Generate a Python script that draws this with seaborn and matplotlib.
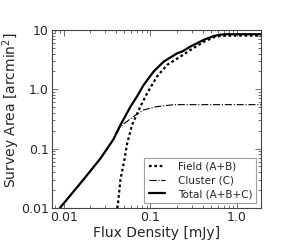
import numpy as np
import pandas as pd
import matplotlib
matplotlib.use("Agg")
import matplotlib.pyplot as plt
import seaborn as sns

# values (flux in mJy, area in arcmin^2)
field_flux = [0.041, 0.045, 0.05, 0.0537, 0.0614, 0.0766, 0.0916, 0.119, 0.156,
              0.222, 0.29, 0.413, 0.54, 0.644, 0.75, 1.0, 2.0]
field_area = [0.008, 0.03, 0.065, 0.12, 0.253, 0.514, 0.86, 1.64, 2.58,
              3.56, 4.6, 6.3, 7.5, 7.9, 8.0, 8.0, 8.0]

cluster_flux = [0.009, 0.0168, 0.0264, 0.037, 0.045, 0.064, 0.0837, 0.119, 0.186,
                0.29, 1.0, 2.0]
cluster_area = [0.01, 0.03, 0.068, 0.14, 0.237, 0.35, 0.45, 0.51, 0.55,
                0.55, 0.55, 0.55]

total_flux = [0.009, 0.0168, 0.0264, 0.037, 0.045, 0.0588, 0.07, 0.0837, 0.109,
              0.1426, 0.204, 0.232, 0.29, 0.413, 0.54, 0.644, 0.75, 1.0, 2.0]
total_area = [0.01, 0.03, 0.068, 0.14, 0.25, 0.51, 0.76, 1.19, 2.0,
              2.93, 4.05, 4.32, 5.25, 6.8, 7.9, 8.3, 8.45, 8.45, 8.45]

sns.set_style("ticks")
plt.rcParams["font.family"] = ["DejaVu Sans"]
plt.rcParams["xtick.direction"] = "in"
plt.rcParams["ytick.direction"] = "in"

fig = plt.figure(figsize=(2.99, 2.47), dpi=100)
ax = fig.add_axes([0.174, 0.158, 0.699, 0.721])

field = pd.DataFrame({"flux": field_flux, "area": field_area})
cluster = pd.DataFrame({"flux": cluster_flux, "area": cluster_area})
total = pd.DataFrame({"flux": total_flux, "area": total_area})

sns.lineplot(data=field, x="flux", y="area", ax=ax, color="black", lw=1.6,
             linestyle=(0, (1.2, 1.2)), label="Field (A+B)", estimator=None, sort=False)
sns.lineplot(data=cluster, x="flux", y="area", ax=ax, color="black", lw=0.8,
             linestyle="-.", label="Cluster (C)", estimator=None, sort=False)
sns.lineplot(data=total, x="flux", y="area", ax=ax, color="black", lw=1.6,
             linestyle="-", label="Total (A+B+C)", estimator=None, sort=False)

ax.set_xscale("log")
ax.set_yscale("log")
ax.set_xlim(0.0073, 1.89)
ax.set_ylim(0.01, 10)
ax.set_xticks([0.01, 0.1, 1.0])
ax.set_xticklabels(["0.01", "0.1", "1.0"])
ax.set_yticks([0.01, 0.1, 1.0, 10])
ax.set_yticklabels(["0.01", "0.1", "1.0", "10"])
ax.tick_params(which="both", top=True, right=True, labelsize=9, width=0.6,
               color="#555555", pad=2.5)
ax.tick_params(which="major", length=4)
ax.tick_params(which="minor", length=2)
for s in ax.spines.values():
    s.set_linewidth(0.8)
    s.set_color("#444444")

ax.set_xlabel("Flux Density [mJy]", fontsize=10, labelpad=1)
ax.set_ylabel("Survey Area [arcmin$^2$]", fontsize=10)
ax.yaxis.set_label_coords(-0.145, 0.55)

leg = ax.legend(loc="lower right", fontsize=7.5, fancybox=False, handlelength=1.6,
                borderaxespad=0.45, labelspacing=0.35, handletextpad=1.2)
leg.get_frame().set_edgecolor("#888888")
leg.get_frame().set_linewidth(0.8)

fig.savefig("out.png", dpi=100)
